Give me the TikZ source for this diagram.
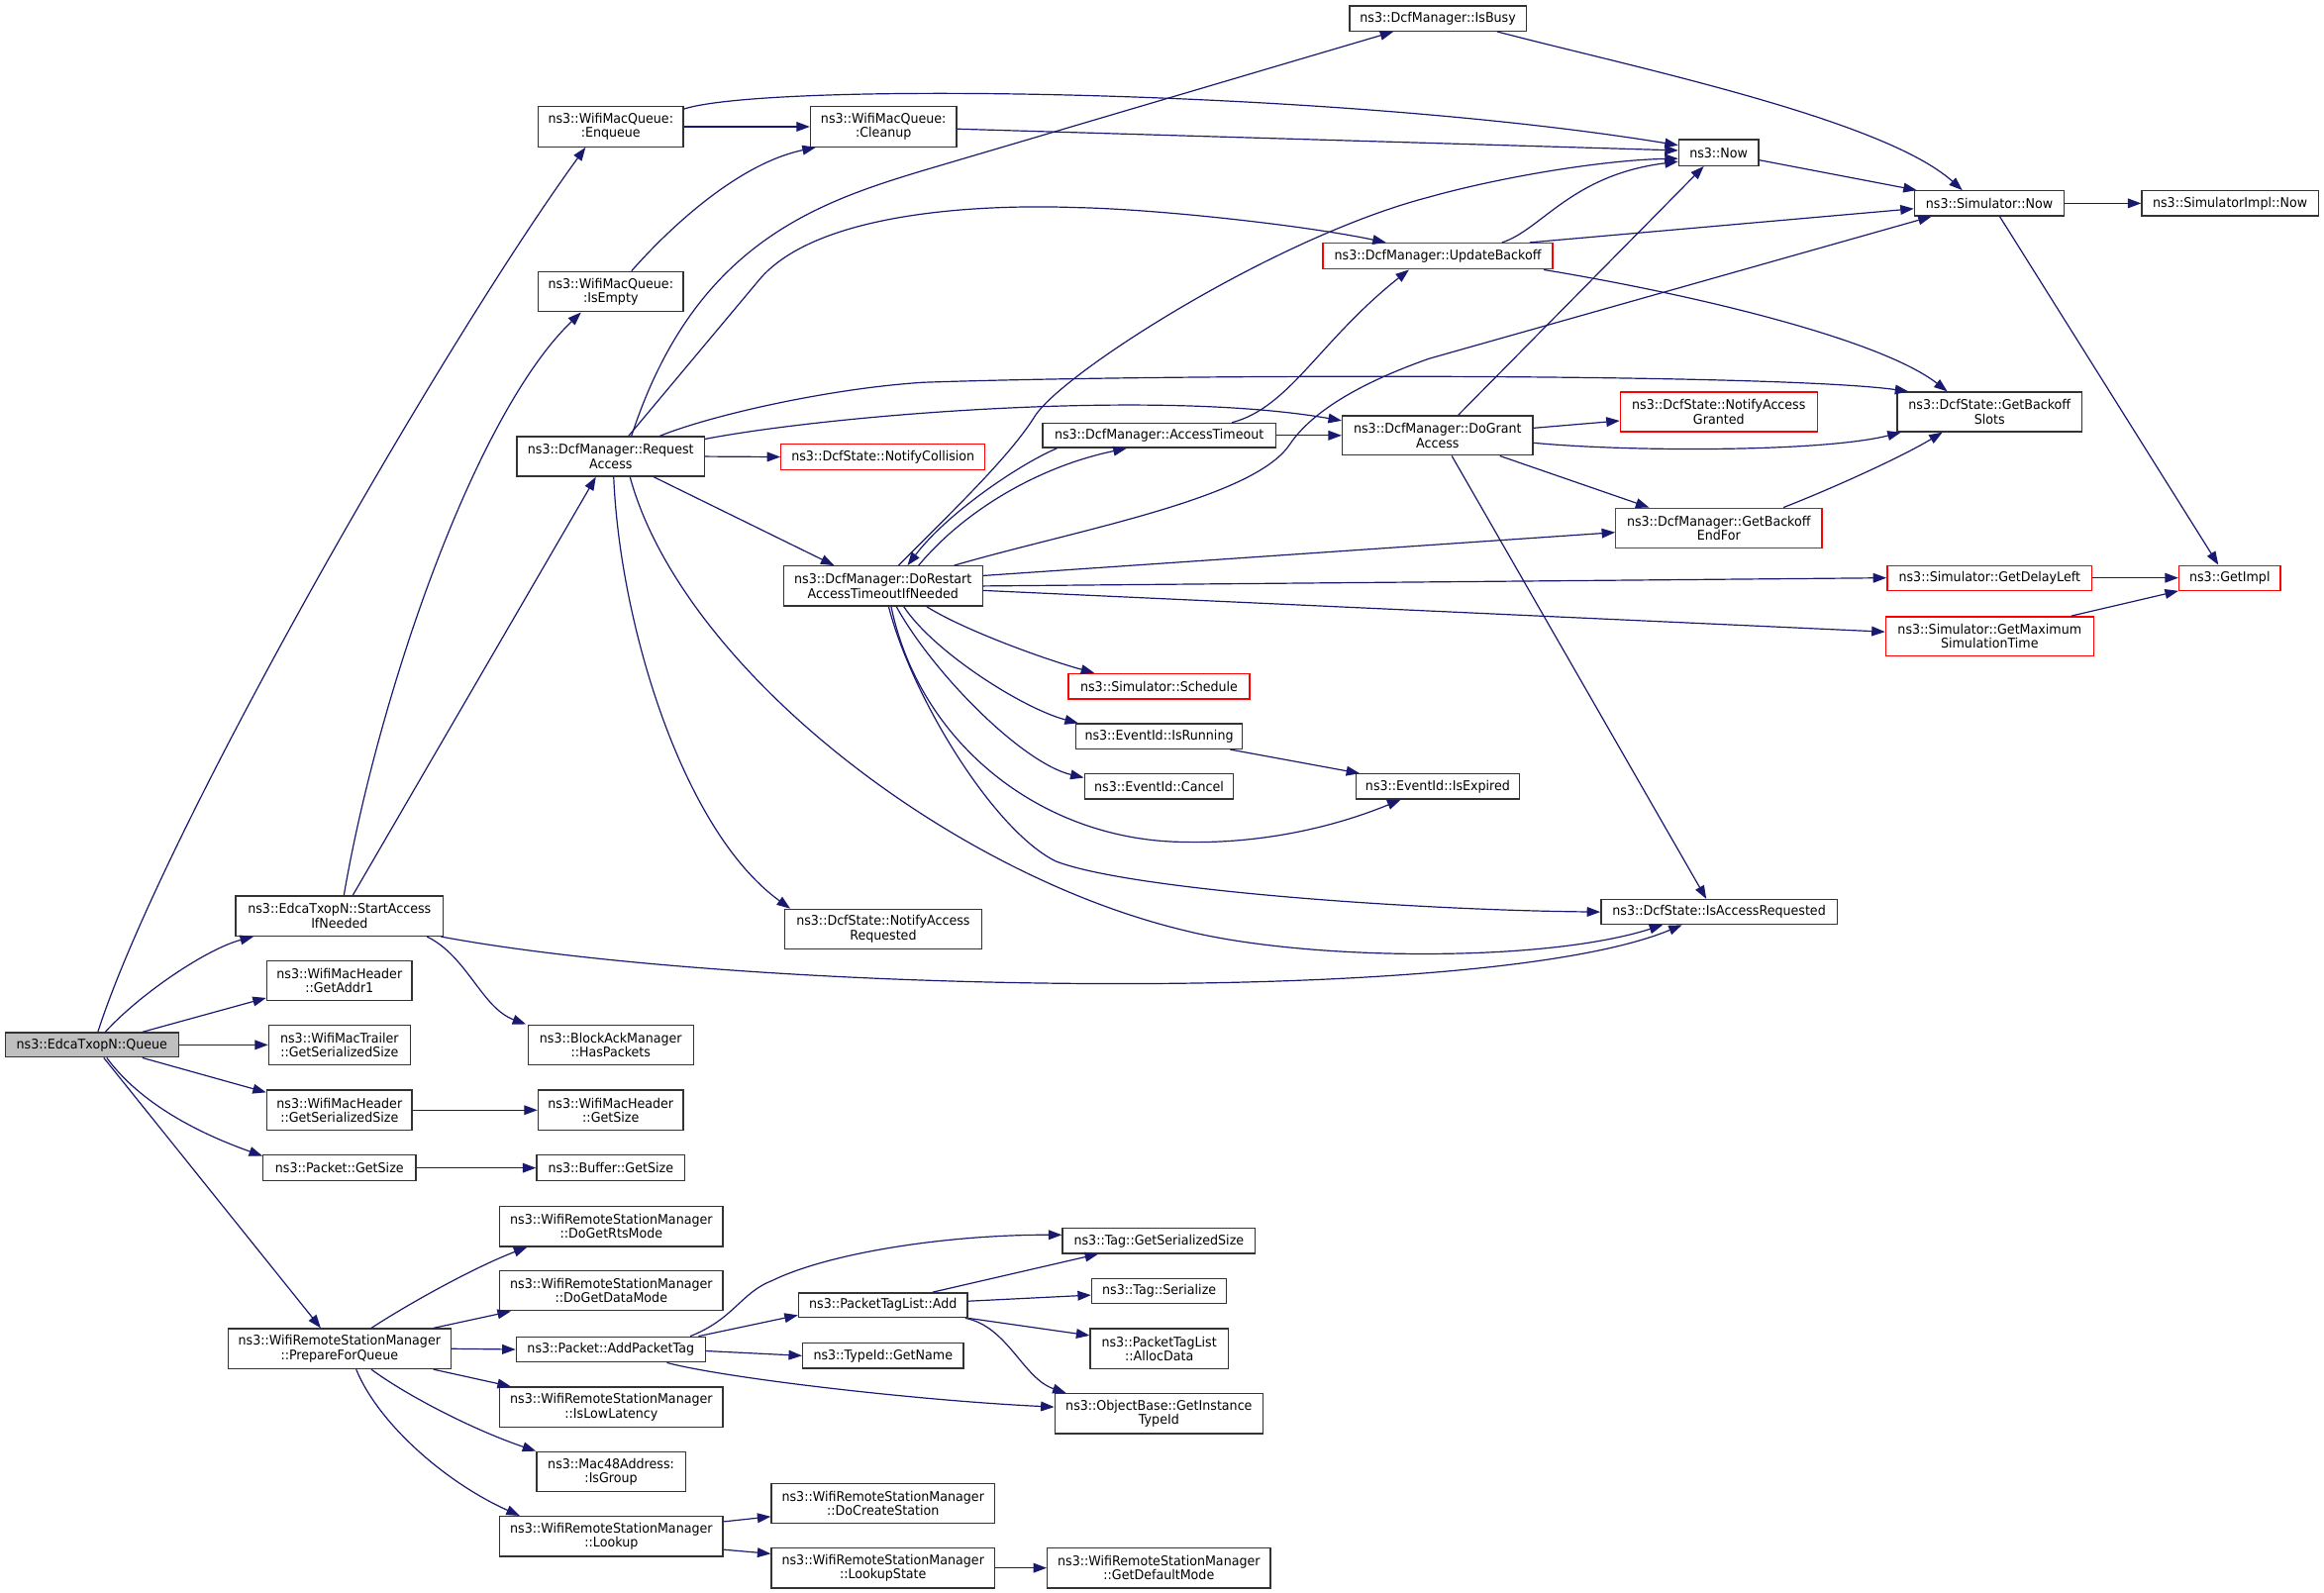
\documentclass[tikz,border=0pt]{standalone}
\usepackage{fontspec}
\setmainfont{DejaVu Sans}[FakeStretch=0.94]
\usetikzlibrary{arrows.meta}
\definecolor{edgeblue}{HTML}{191970}
\definecolor{qgray}{HTML}{BFBFBF}
\definecolor{boxline}{HTML}{333333}
\begin{document}
\begin{tikzpicture}[x=1pt,y=-1pt,
  box/.style={draw=boxline, line width=0.9pt, fill=white, inner sep=0pt, align=center, font=\fontsize{9}{9.6}\selectfont},
  rbox/.style={box, draw=red},
  gbox/.style={box, fill=qgray},
  e/.style={draw=edgeblue, line width=0.8pt, line join=round, -{Triangle[length=9pt,width=6.5pt]}, fill=none}]
\useasboundingbox[fill=white] (0,0) rectangle (1567.8,1074.8);
% nodes
\node[gbox, minimum width=117pt, minimum height=16.5pt] (q) at (62,705) {ns3::EdcaTxopN::Queue};
\node[box, minimum width=98pt, minimum height=27pt] (enq) at (412,85.5) {ns3::WifiMacQueue:\\:Enqueue};
\node[box, minimum width=98.5pt, minimum height=27pt] (cln) at (596,85.5) {ns3::WifiMacQueue:\\:Cleanup};
\node[box, minimum width=119pt, minimum height=17pt] (busy) at (970,12.4) {ns3::DcfManager::IsBusy};
\node[box, minimum width=53.7pt, minimum height=17.5pt] (now) at (1159.4,103) {ns3::Now};
\node[box, minimum width=101pt, minimum height=16.8pt] (snow) at (1342,137.2) {ns3::Simulator::Now};
\node[box, minimum width=119pt, minimum height=16.8pt] (simpl) at (1504.4,137.2) {ns3::SimulatorImpl::Now};
\node[box, minimum width=98pt, minimum height=27pt] (empty) at (412,196.8) {ns3::WifiMacQueue:\\:IsEmpty};
\node[rbox, minimum width=155pt, minimum height=17.5pt] (upd) at (970,172.8) {ns3::DcfManager::UpdateBackoff};
\node[box, minimum width=126.5pt, minimum height=26.7pt] (req) at (412,308) {ns3::DcfManager::Request\\Access};
\node[rbox, minimum width=137.6pt, minimum height=17pt] (coll) at (595.7,308.3) {ns3::DcfState::NotifyCollision};
\node[box, minimum width=157pt, minimum height=16.5pt] (ato) at (782,293.8) {ns3::DcfManager::AccessTimeout};
\node[box, minimum width=128.5pt, minimum height=26.7pt] (grant) at (969.8,293.8) {ns3::DcfManager::DoGrant\\Access};
\node[rbox, minimum width=132.8pt, minimum height=26.7pt] (granted) at (1159.5,277.9) {ns3::DcfState::NotifyAccess\\Granted};
\node[box, minimum width=124.7pt, minimum height=26.7pt] (slots) at (1342.2,277.9) {ns3::DcfState::GetBackoff\\Slots};
\node[rbox, minimum width=139pt, minimum height=26.7pt] (endfor) at (1159.5,356.2) {ns3::DcfManager::GetBackoff\\EndFor};
\node[box, minimum width=134.3pt, minimum height=26.9pt] (restart) at (595.7,395.4) {ns3::DcfManager::DoRestart\\AccessTimeoutIfNeeded};
\node[rbox, minimum width=138.2pt, minimum height=16.7pt] (delay) at (1342.2,389.9) {ns3::Simulator::GetDelayLeft};
\node[rbox, minimum width=68.4pt, minimum height=16.7pt] (impl) at (1504.2,389.9) {ns3::GetImpl};
\node[rbox, minimum width=140.2pt, minimum height=26.5pt] (maxt) at (1342.2,429.3) {ns3::Simulator::GetMaximum\\SimulationTime};
\node[rbox, minimum width=122.4pt, minimum height=17.2pt] (sched) at (781.9,463.1) {ns3::Simulator::Schedule};
\node[box, minimum width=112.2pt, minimum height=16.9pt] (run) at (781.9,496.8) {ns3::EventId::IsRunning};
\node[box, minimum width=100.6pt, minimum height=16.9pt] (cancel) at (781.9,530.7) {ns3::EventId::Cancel};
\node[box, minimum width=110.4pt, minimum height=16.9pt] (expired) at (969.9,530.7) {ns3::EventId::IsExpired};
\node[box, minimum width=140pt, minimum height=27pt] (start) at (229,618) {ns3::EdcaTxopN::StartAccess\\IfNeeded};
\node[box, minimum width=132.6pt, minimum height=26.7pt] (nreq) at (595.8,626.8) {ns3::DcfState::NotifyAccess\\Requested};
\node[box, minimum width=159.3pt, minimum height=16.7pt] (isreq) at (1159.7,615.3) {ns3::DcfState::IsAccessRequested};
\node[box, minimum width=98pt, minimum height=26.5pt] (addr1) at (229,661.6) {ns3::WifiMacHeader\\::GetAddr1};
\node[box, minimum width=95.4pt, minimum height=27pt] (trail) at (229,705) {ns3::WifiMacTrailer\\::GetSerializedSize};
\node[box, minimum width=111.5pt, minimum height=27pt] (hasp) at (412,705) {ns3::BlockAckManager\\::HasPackets};
\node[box, minimum width=98pt, minimum height=27pt] (whss) at (229,749) {ns3::WifiMacHeader\\::GetSerializedSize};
\node[box, minimum width=98pt, minimum height=27pt] (whgs) at (412,749) {ns3::WifiMacHeader\\::GetSize};
\node[box, minimum width=103pt, minimum height=17.3pt] (pgs) at (229,788) {ns3::Packet::GetSize};
\node[box, minimum width=100pt, minimum height=17.3pt] (bgs) at (412,788) {ns3::Buffer::GetSize};
\node[box, minimum width=150.7pt, minimum height=27pt] (rts) at (412.4,827.5) {ns3::WifiRemoteStationManager\\::DoGetRtsMode};
\node[box, minimum width=150.7pt, minimum height=27pt] (data) at (412.4,870.8) {ns3::WifiRemoteStationManager\\::DoGetDataMode};
\node[box, minimum width=150.3pt, minimum height=27pt] (prep) at (229,910) {ns3::WifiRemoteStationManager\\::PrepareForQueue};
\node[box, minimum width=127.5pt, minimum height=17pt] (apt) at (412,910.5) {ns3::Packet::AddPacketTag};
\node[box, minimum width=150.7pt, minimum height=27pt] (lowlat) at (412.4,949.4) {ns3::WifiRemoteStationManager\\::IsLowLatency};
\node[box, minimum width=100.5pt, minimum height=27pt] (group) at (412.2,993) {ns3::Mac48Address:\\:IsGroup};
\node[box, minimum width=150.7pt, minimum height=27pt] (lookup) at (412.4,1036.6) {ns3::WifiRemoteStationManager\\::Lookup};
\node[box, minimum width=150.6pt, minimum height=26.8pt] (create) at (595.7,1014.4) {ns3::WifiRemoteStationManager\\::DoCreateStation};
\node[box, minimum width=150.6pt, minimum height=26.9pt] (lstate) at (595.7,1057.9) {ns3::WifiRemoteStationManager\\::LookupState};
\node[box, minimum width=150.5pt, minimum height=27pt] (defmode) at (781.8,1057.9) {ns3::WifiRemoteStationManager\\::GetDefaultMode};
\node[box, minimum width=130pt, minimum height=16.8pt] (tgss) at (781.8,837.2) {ns3::Tag::GetSerializedSize};
\node[box, minimum width=91pt, minimum height=17pt] (tser) at (782,871) {ns3::Tag::Serialize};
\node[box, minimum width=93pt, minimum height=27pt] (alloc) at (782,910) {ns3::PacketTagList\\::AllocData};
\node[box, minimum width=114pt, minimum height=16.6pt] (ptladd) at (595.7,880.6) {ns3::PacketTagList::Add};
\node[box, minimum width=108.4pt, minimum height=17pt] (tname) at (595.7,914.7) {ns3::TypeId::GetName};
\node[box, minimum width=140.4pt, minimum height=27pt] (gitid) at (781.8,953.8) {ns3::ObjectBase::GetInstance\\TypeId};
% edges from Queue
\draw[e] ([xshift=4pt]q.north) .. controls (110,560) and (300,230) .. ([xshift=-17pt]enq.south);
\draw[e] ([xshift=9pt]q.north) .. controls (95,670) and (140,640) .. ([xshift=-58pt]start.south);
\draw[e] ([xshift=34pt]q.north) -- ([yshift=2pt]addr1.south west);
\draw[e] (q.east) -- (trail.west);
\draw[e] ([xshift=34pt]q.south) -- ([yshift=-2pt]whss.north west);
\draw[e] ([xshift=10pt]q.south) .. controls (95,745) and (135,765) .. ([yshift=-1pt]pgs.north west);
\draw[e] ([xshift=8pt]q.south) -- ([xshift=-12.6pt]prep.north);
% StartAccessIfNeeded
\draw[e] ([xshift=3pt]start.north) .. controls (255,470) and (320,280) .. ([xshift=-20pt]empty.south);
\draw[e] ([xshift=9pt]start.north) -- ([xshift=-10pt]req.south);
\draw[e] ([xshift=59pt]start.south) .. controls (315,645) and (325,680) .. ([xshift=-1pt]hasp.north west);
\draw[e] ([xshift=-2pt]start.south east) .. controls (500,670) and (1000,680) .. ([xshift=-25pt]isreq.south);
% WifiMacQueue
\draw[e] ([xshift=14pt]empty.north) .. controls (455,150) and (500,110) .. ([xshift=4pt]cln.south west);
\draw[e] (enq.east) -- (cln.west);
\draw[e] ([yshift=12pt]enq.east) .. controls (520,55) and (900,60) .. ([yshift=5pt]now.west);
\draw[e] ([yshift=-1.5pt]cln.east) -- ([yshift=1.5pt]now.west);
% RequestAccess
\draw[e] ([xshift=14pt]req.north) .. controls (468,165) and (550,137) .. (623,115) -- ([xshift=-30pt]busy.south);
\draw[e] ([xshift=12pt]req.north) -- (512,189) .. controls (552,141) and (670,138) .. (725,140) .. controls (780,141) and (880,152) .. ([xshift=-35pt]upd.north);
\draw[e] ([xshift=33pt]req.north) .. controls (480,280) and (560,262) .. (623,258) .. controls (800,252) and (1200,252) .. ([xshift=8pt]slots.north west);
\draw[e] ([yshift=-2pt]req.north east) .. controls (560,280) and (780,262) .. ([yshift=10pt]grant.west);
\draw[e] (req.east) -- (coll.west);
\draw[e] ([xshift=29pt]req.south) -- ([xshift=-33pt]restart.north);
\draw[e] ([xshift=2pt]req.south) .. controls (418,420) and (460,560) .. ([xshift=4pt]nreq.north west);
\draw[e] ([xshift=13pt]req.south) .. controls (460,450) and (640,590) .. (800,628) .. controls (880,648) and (1040,650) .. ([xshift=-38pt]isreq.south);
% DoRestartAccessTimeoutIfNeeded
\draw[e] ([xshift=29.4pt]restart.south) .. controls (650,425) and (705,445) .. ([xshift=18pt]sched.north west);
\draw[e] ([xshift=14pt]restart.south) .. controls (630,440) and (690,478) .. ([xshift=2pt]run.north west);
\draw[e] ([xshift=9pt]restart.south) .. controls (630,455) and (690,515) .. ([yshift=6pt]cancel.west);
\draw[e] ([xshift=5.5pt]restart.south) .. controls (620,500) and (700,565) .. (794,568) .. controls (850,570) and (900,558) .. ([xshift=-25pt]expired.south);
\draw[e] ([xshift=3.8pt]restart.south) .. controls (615,470) and (670,560) .. (712,581) .. controls (760,600) and (950,614) .. (isreq.west);
\draw[e] ([xshift=10.5pt]restart.north) .. controls (635,352) and (680,310) .. (698,281) .. controls (716,252) and (860,160) .. (964,133) .. controls (1010,120) and (1080,108) .. ([yshift=-4pt]now.west);
\draw[e] ([xshift=10pt]ato.south west) .. controls (690,312) and (640,345) .. ([xshift=16.5pt]restart.north);
\draw[e] ([xshift=24pt]restart.north) .. controls (650,345) and (700,315) .. ([xshift=-22pt]ato.south);
\draw[e] ([xshift=48pt]restart.north) .. controls (724,358) and (845,337) .. (870,300) .. controls (888,273) and (930,254) .. (964,242) -- ([xshift=12pt]snow.south west);
\draw[e] (restart.east) -- (delay.west);
\draw[e] ([yshift=-3pt]restart.east) -- ([yshift=3pt]maxt.west);
\draw[e] ([yshift=7pt]restart.east) -- ([yshift=-3pt]endfor.west);
\draw[e] ([xshift=-8.6pt]run.south east) -- ([xshift=3pt]expired.north west);
% AccessTimeout, DoGrantAccess
\draw[e] (ato.east) -- (grant.west);
\draw[e] ([xshift=49pt]ato.north) .. controls (870,275) and (890,230) .. ([xshift=-19.5pt]upd.south);
\draw[e] ([xshift=14pt]grant.north) -- ([xshift=-10pt]now.south);
\draw[e] ([yshift=5pt]grant.east) -- ([yshift=-6pt]granted.west);
\draw[e] ([yshift=-5pt]grant.east) .. controls (1100,305) and (1230,305) .. ([xshift=3pt]slots.south west);
\draw[e] ([xshift=42pt]grant.south) -- ([xshift=-47pt]endfor.north);
\draw[e] ([xshift=9.6pt]grant.south) -- ([xshift=-8.6pt]isreq.north);
\draw[e] ([xshift=43.6pt]endfor.north) .. controls (1230,332) and (1280,310) .. ([xshift=-31.8pt]slots.south);
% UpdateBackoff, IsBusy, Now
\draw[e] ([xshift=43.3pt]upd.north) .. controls (1040,155) and (1060,118) .. ([yshift=-6pt]now.west);
\draw[e] ([xshift=-16pt]upd.north east) -- ([yshift=-3.6pt]snow.west);
\draw[e] ([xshift=-6.5pt]upd.south east) .. controls (1150,200) and (1270,230) .. ([xshift=-28.5pt]slots.north);
\draw[e] ([xshift=40pt]busy.south) .. controls (1100,45) and (1270,80) .. ([xshift=-18.2pt]snow.north);
\draw[e] ([yshift=-5pt]now.east) -- ([xshift=2pt]snow.north west);
\draw[e] (snow.east) -- (simpl.west);
\draw[e] ([xshift=7pt]snow.south) -- ([xshift=-7.7pt]impl.north);
\draw[e] (delay.east) -- (impl.west);
\draw[e] ([xshift=55pt]maxt.north) -- (impl.south west);
% lower part
\draw[e] (whss.east) -- (whgs.west);
\draw[e] (pgs.east) -- (bgs.west);
\draw[e] ([xshift=21.5pt]prep.north) .. controls (275,880) and (320,855) .. ([xshift=19pt]rts.south west);
\draw[e] ([xshift=63.4pt]prep.north) -- ([xshift=8pt]data.south west);
\draw[e] (prep.east) -- (apt.west);
\draw[e] ([xshift=63.4pt]prep.south) -- ([xshift=8pt]lowlat.north west);
\draw[e] ([xshift=21.5pt]prep.south) .. controls (275,942) and (320,965) .. (group.north west);
\draw[e] ([xshift=11.3pt]prep.south) .. controls (255,960) and (300,1000) .. ([xshift=14pt]lookup.north west);
\draw[e] ([yshift=-4pt]lookup.north east) -- ([yshift=5pt]create.south west);
\draw[e] ([yshift=5pt]lookup.south east) -- ([yshift=-4.3pt]lstate.north west);
\draw[e] (lstate.east) -- (defmode.west);
\draw[e] ([xshift=-10.5pt]apt.north east) .. controls (495,890) and (500,872) .. (521,864) .. controls (560,845) and (640,833) .. ([yshift=4pt]tgss.west);
\draw[e] ([xshift=-5pt]apt.north east) -- ([yshift=2pt]ptladd.south west);
\draw[e] ([yshift=-1pt]apt.east) -- (tname.west);
\draw[e] ([xshift=37.9pt]apt.south) .. controls (490,930) and (620,945) .. ([yshift=4.5pt]gitid.west);
\draw[e] ([xshift=33.4pt]ptladd.north) -- ([xshift=-40.9pt]tgss.south);
\draw[e] ([yshift=2.7pt]ptladd.east) -- ([yshift=-2.8pt]tser.west);
\draw[e] (ptladd.south east) -- ([yshift=-5pt]alloc.north west);
\draw[e] ([xshift=-2pt]ptladd.south east) .. controls (680,895) and (690,930) .. ([xshift=8pt]gitid.north west);
\end{tikzpicture}
\end{document}
